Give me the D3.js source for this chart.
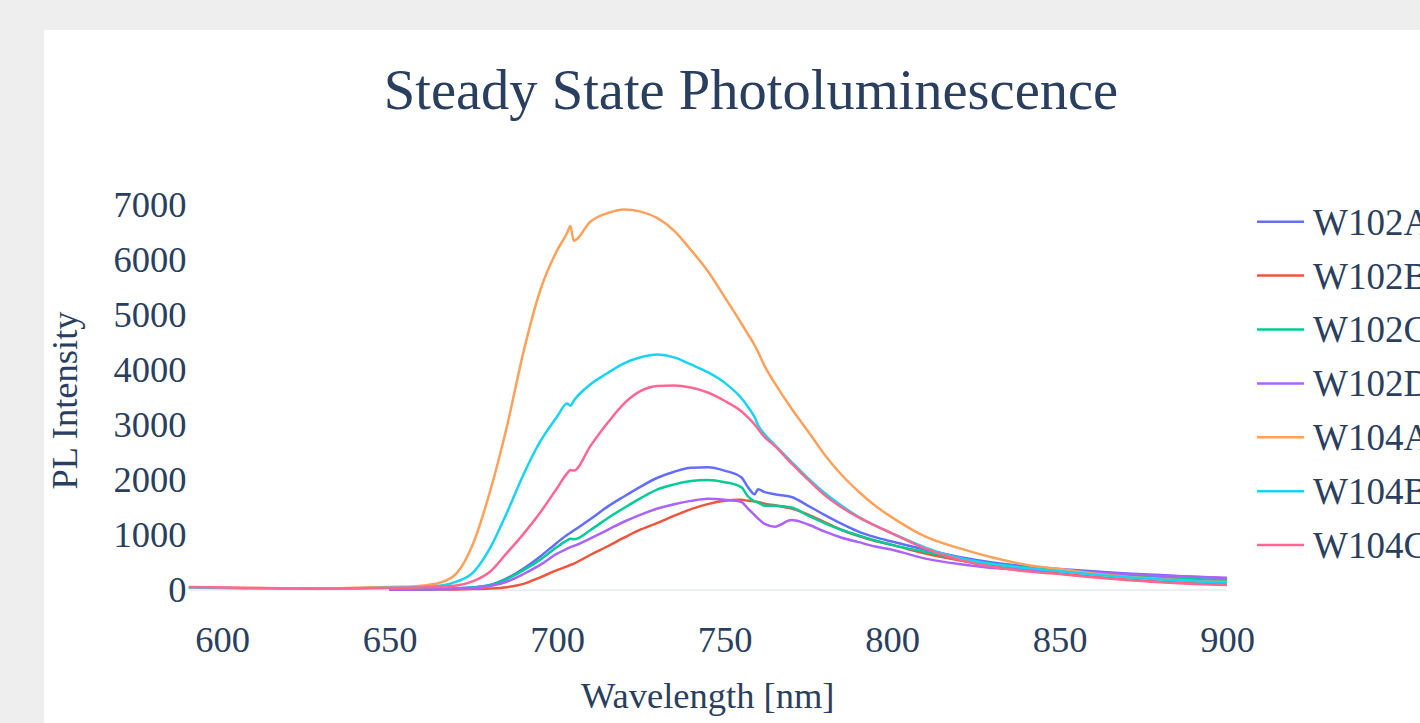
<!DOCTYPE html>
<html>
<head>
<meta charset="utf-8">
<script src="https://cdn.jsdelivr.net/npm/d3@7"></script>
<style>
  body { margin: 0; background: #eeeeee; }
  svg { display: block; }
</style>
</head>
<body>
<div id="chart"></div>
<script>
"use strict";

// wavelength grid [nm]
const wavelength = [590, 600, 610, 620, 630, 640, 650, 655, 660, 665, 670, 675, 680, 685, 690, 695,
    700, 703, 704, 705, 710, 715, 720, 725, 730, 735, 740, 745, 750, 755, 757, 759, 760, 762, 765,
    770, 775, 780, 785, 790, 795, 800, 810, 820, 830, 840, 850, 860, 870, 880, 890, 900];

const seriesNames = ["W102A", "W102B", "W102C", "W102D", "W104A", "W104B", "W104C"];

// PL intensity, null where a sample has no data
const W102A = [null, null, null, null, null, null, 10, 10, 15, 20, 30, 50, 90, 210, 390, 610,
    860, 1000, 1040, 1080, 1290, 1510, 1700, 1880, 2040, 2150, 2220, 2230, 2170, 2050, 1870, 1740, 1830, 1780, 1740,
    1690, 1530, 1360, 1200, 1060, 960, 880, 730, 600, 500, 430, 380, 340, 300, 270, 240, 210];
const W102B = [null, null, null, null, null, null, 5, 5, 5, 8, 10, 15, 25, 50, 110, 230,
    360, 430, 455, 480, 640, 790, 950, 1100, 1220, 1350, 1470, 1560, 1620, 1640, 1620, 1610, 1600, 1570, 1540,
    1480, 1370, 1230, 1090, 980, 890, 820, 660, 540, 440, 360, 300, 240, 190, 150, 120, 100];
const W102C = [null, null, null, null, null, null, 10, 10, 12, 18, 28, 45, 85, 195, 360, 550,
    780, 900, 930, 920, 1090, 1300, 1490, 1670, 1830, 1920, 1980, 2000, 1960, 1870, 1700, 1610, 1590, 1530, 1530,
    1500, 1350, 1210, 1090, 990, 900, 820, 690, 570, 470, 410, 360, 310, 270, 230, 200, 170];
const W102D = [null, null, null, null, null, null, 5, 5, 8, 12, 20, 30, 70, 150, 290, 455,
    660, 750, 780, 800, 940, 1090, 1240, 1370, 1480, 1560, 1620, 1660, 1640, 1600, 1480, 1360, 1300, 1200, 1150,
    1270, 1190, 1060, 950, 870, 790, 730, 570, 470, 400, 370, 350, 320, 290, 260, 240, 220];
const W104A = [50, 40, 35, 30, 30, 40, 55, 60, 80, 130, 300, 850, 1790, 2960, 4330, 5450,
    6170, 6490, 6620, 6350, 6700, 6850, 6920, 6880, 6760, 6530, 6180, 5800, 5330, 4850, 4650, 4450, 4330, 4070, 3760,
    3300, 2880, 2450, 2090, 1790, 1530, 1320, 970, 760, 590, 460, 380, 300, 240, 200, 165, 145];
const W104B = [45, 35, 30, 25, 25, 30, 40, 45, 55, 75, 150, 320, 760, 1400, 2100, 2700,
    3150, 3390, 3350, 3440, 3740, 3940, 4120, 4230, 4280, 4230, 4100, 3960, 3770, 3490, 3330, 3140, 3000, 2830, 2640,
    2330, 2030, 1760, 1530, 1330, 1170, 1030, 770, 580, 470, 400, 340, 280, 230, 190, 160, 130];
const W104C = [55, 45, 35, 25, 20, 25, 35, 40, 50, 60, 80, 160, 330, 670, 1020, 1410,
    1850, 2120, 2180, 2170, 2620, 3030, 3390, 3620, 3710, 3720, 3680, 3590, 3440, 3250, 3140, 3010, 2930, 2780, 2620,
    2300, 2000, 1720, 1500, 1320, 1170, 1030, 750, 550, 420, 340, 290, 230, 180, 140, 110, 90];

const xTicks = [600, 650, 700, 750, 800, 850, 900];
const yTicks = [0, 1000, 2000, 3000, 4000, 5000, 6000, 7000];

const colors = ["#636efa", "#EF553B", "#00cc96", "#ab63fa", "#FFA15A", "#19d3f3", "#FF6692"];
const seriesValues = [W102A, W102B, W102C, W102D, W104A, W104B, W104C];

let W = 1420, H = 723;
let font = "'Liberation Serif', 'Times New Roman', serif";
let textColor = "#2a3f5f";

let plot = { left: 188.5, right: 1227, top: 209.4, bottom: 591.6 };

let svg = d3.select("#chart")
    .append("svg")
    .attr("width", W)
    .attr("height", H);

// white paper
svg.append("rect")
    .attr("x", 44).attr("y", 30)
    .attr("width", W).attr("height", H)
    .attr("fill", "#ffffff");

let x = d3.scaleLinear().domain([590, 900]).range([plot.left, plot.right]);
let y = d3.scaleLinear().domain([-30, 6920]).range([plot.bottom, plot.top]);

// Title
svg.append("text")
    .attr("x", 751)
    .attr("y", 109)
    .attr("text-anchor", "middle")
    .attr("font-family", font)
    .attr("font-size", 56.5)
    .attr("fill", textColor)
    .text("Steady State Photoluminescence");

// zero line
svg.append("line")
    .attr("x1", plot.left).attr("x2", plot.right)
    .attr("y1", y(0)).attr("y2", y(0))
    .attr("stroke", "#ebf0f8")
    .attr("stroke-width", 2);

// x axis
let xAxis = svg.append("g")
    .attr("transform", "translate(0," + plot.bottom + ")")
    .call(d3.axisBottom(x).tickValues(xTicks).tickSize(0).tickPadding(34).tickFormat(d3.format("d")));
xAxis.select(".domain").remove();
xAxis.selectAll("text")
    .attr("font-family", font)
    .attr("font-size", 36.5)
    .attr("fill", textColor);

// y axis
let yAxis = svg.append("g")
    .attr("transform", "translate(" + plot.left + ",0)")
    .call(d3.axisLeft(y).tickValues(yTicks).tickSize(0).tickPadding(2).tickFormat(d3.format("d")));
yAxis.select(".domain").remove();
yAxis.selectAll("text")
    .attr("font-family", font)
    .attr("font-size", 36.5)
    .attr("fill", textColor);

// axis titles
svg.append("text")
    .attr("x", (plot.left + plot.right) / 2)
    .attr("y", 708)
    .attr("text-anchor", "middle")
    .attr("font-family", font)
    .attr("font-size", 36.5)
    .attr("fill", textColor)
    .text("Wavelength [nm]");

svg.append("text")
    .attr("transform", "translate(77," + (plot.top + plot.bottom) / 2 + ") rotate(-90)")
    .attr("text-anchor", "middle")
    .attr("font-family", font)
    .attr("font-size", 36.5)
    .attr("fill", textColor)
    .text("PL Intensity");

// clip to plot area
svg.append("clipPath")
    .attr("id", "clip")
    .append("rect")
    .attr("x", plot.left).attr("y", plot.top - 2)
    .attr("width", plot.right - plot.left)
    .attr("height", plot.bottom - plot.top + 4);

let line = d3.line()
    .defined(d => d[1] !== null)
    .curve(d3.curveMonotoneX)
    .x(d => x(d[0]))
    .y(d => y(d[1]));

let lines = svg.append("g").attr("clip-path", "url(#clip)");
seriesValues.forEach(function (vals, i) {
    let pts = wavelength.map((w, j) => [w, vals[j]]);
    lines.append("path")
        .datum(pts)
        .attr("fill", "none")
        .attr("stroke", colors[i])
        .attr("stroke-width", 2.5)
        .attr("stroke-linejoin", "round")
        .attr("d", line);
});

// Legend (runs off the right edge, as in the screenshot)
let legend = svg.append("g");
seriesNames.forEach(function (name, i) {
    let ly = 221.7 + i * 53.9;
    legend.append("line")
        .attr("x1", 1257).attr("x2", 1304)
        .attr("y1", ly).attr("y2", ly)
        .attr("stroke", colors[i])
        .attr("stroke-width", 2.5);
    legend.append("text")
        .attr("x", 1313)
        .attr("y", ly)
        .attr("dy", "0.35em")
        .attr("font-family", font)
        .attr("font-size", 37)
        .attr("fill", textColor)
        .text(name);
});
</script>
</body>
</html>
